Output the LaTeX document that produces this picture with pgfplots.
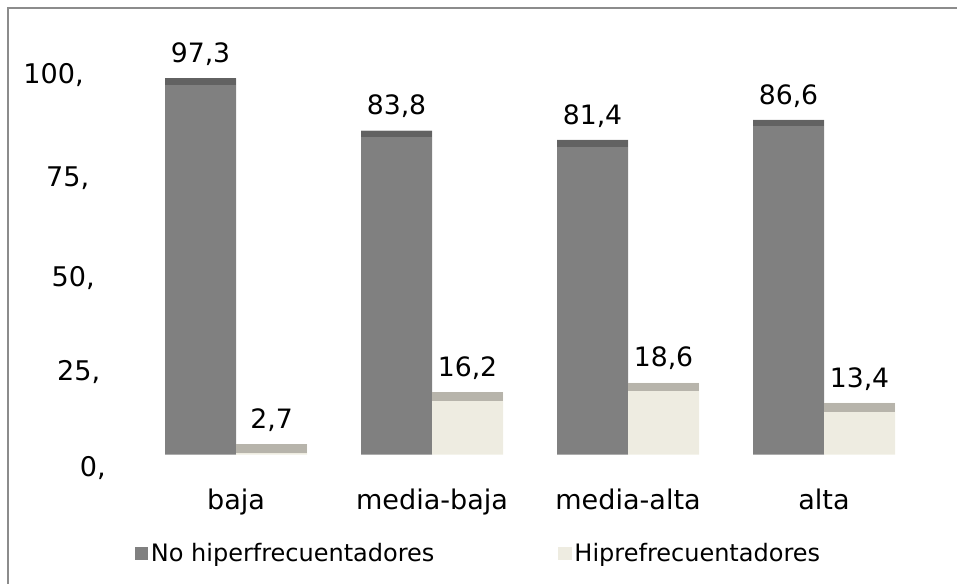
\documentclass[border=0pt]{standalone}
\usepackage{pgfplots}
\pgfplotsset{compat=1.18}
\usepackage{fontspec}
\setmainfont{DejaVu Sans}
\definecolor{barA}{HTML}{808080}
\definecolor{barAtop}{HTML}{626262}
\definecolor{barB}{HTML}{EEECE1}
\definecolor{barBtop}{HTML}{B7B4AB}
\definecolor{frame}{HTML}{8C8C8C}
\pgfdeclareplotmark{topA}{\pgfpathrectangle{\pgfpoint{-53.25pt}{-5pt}}{\pgfpoint{53.25pt}{5pt}}\pgfusepath{fill}}
\pgfdeclareplotmark{topB}{\pgfpathrectangle{\pgfpoint{0pt}{-6.5pt}}{\pgfpoint{53.25pt}{6.5pt}}\pgfusepath{fill}}
\begin{document}
\begin{tikzpicture}
\clip (0pt,0pt) rectangle (717.75pt,-437.25pt);
\draw[frame, line width=1.5pt] (6pt,-6pt) rectangle (740pt,-460pt);
\begin{axis}[
  at={(90pt,-355.5pt)}, anchor=south west,
  scale only axis, width=617.25pt, height=304.5pt,
  xmin=-0.592, xmax=3.607, ymin=-5, ymax=100,
  axis line style={draw=none},
  major tick length=0pt,
  xtick={0,1,2,3},
  xticklabels={baja,media-baja,media-alta,alta},
  xticklabel style={yshift=-7.5pt},
  ytick={-3.4,21.4,45.7,71.6,98.2},
  yticklabels={{0,},{25,},{50,},{75,},{100,}},
  yticklabel style={anchor=east, inner sep=0pt, xshift={-(14+5.5*\ticknum)*0.75pt}},
  tick label style={font=\fontsize{20.3}{20.3}\selectfont},
  /pgf/number format/assume math mode=true,
  /pgf/number format/.cd, use comma, fixed, fixed zerofill, precision=1,
  /pgfplots/.cd,
  every node near coord/.append style={font=\fontsize{20}{20}\selectfont, black, yshift=6pt},
  legend columns=2,
  legend style={at={(0.436,-0.195)}, anchor=center, draw=none, fill=none,
    font=\fontsize{18}{18}\selectfont,
    /tikz/every even column/.append style={column sep=91pt}},
  legend image code/.code={\fill[#1,draw=none] (0pt,-5pt) rectangle (10pt,5pt);},
]
\addplot[ybar, bar width=53.25pt, bar shift=-26.625pt, fill=barA, draw=none, nodes near coords,
  every node near coord/.append style={xshift=-26.625pt}]
  coordinates {(0,97.3) (1,83.8) (2,81.4) (3,86.6)};
\addplot[ybar, bar width=53.25pt, bar shift=26.625pt, fill=barB, draw=none, nodes near coords,
  every node near coord/.append style={xshift=26.625pt}]
  coordinates {(0,2.7) (1,16.2) (2,18.6) (3,13.4)};
\addplot[only marks, mark=topA, mark options={fill=barAtop, draw=none}, forget plot]
  coordinates {(0,97.3) (1,83.8) (2,81.4) (3,86.6)};
\addplot[only marks, mark=topB, mark options={fill=barBtop, draw=none}, forget plot]
  coordinates {(0,2.7) (1,16.2) (2,18.6) (3,13.4)};
\legend{No hiperfrecuentadores, Hiprefrecuentadores}
\end{axis}
\end{tikzpicture}
\end{document}
